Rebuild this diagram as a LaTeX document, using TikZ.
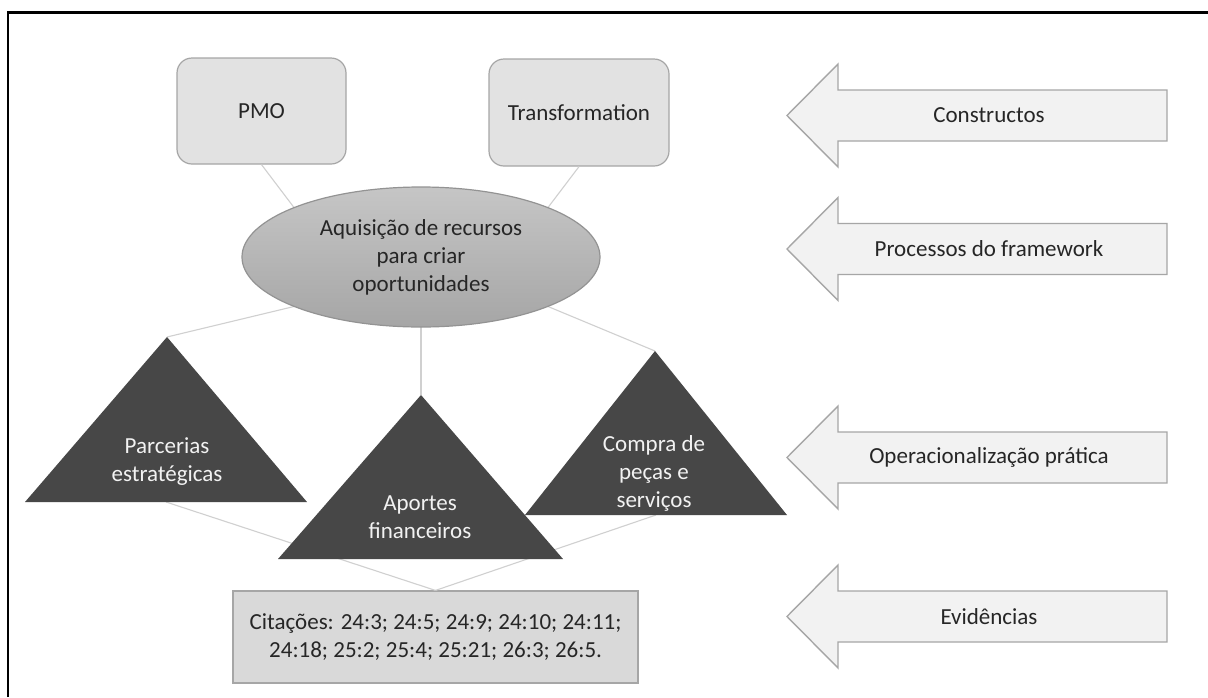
\documentclass[tikz,border=0pt]{standalone}
\usepackage{fontspec}
\setmainfont{Carlito}
\usetikzlibrary{shapes.geometric}
\definecolor{txt}{HTML}{262626}
\definecolor{linkgray}{HTML}{D0D0D0}
\definecolor{edgegray}{HTML}{A6A6A6}
\definecolor{boxfill}{HTML}{E2E2E2}
\definecolor{citefill}{HTML}{D9D9D9}
\definecolor{arrowfill}{HTML}{F2F2F2}
\definecolor{trifill}{HTML}{474747}
\tikzset{
  label font/.style={font=\fontsize{23}{28}\selectfont},
  conbox/.style={draw=edgegray, line width=1.2pt, fill=boxfill, rounded corners=15pt,
    label font, text=txt, align=center},
  citebox/.style={draw=edgegray, line width=1.2pt, fill=citefill,
    label font, text=txt, align=center},
  procell/.style={ellipse, draw=gray!85, line width=1.2pt, top color=gray!45,
    bottom color=gray!70, minimum width=358pt, minimum height=140pt, inner sep=0pt,
    label font, text=txt, align=center},
  link/.style={draw=linkgray, line width=1.1pt},
  tri/.style={fill=trifill},
  tritext/.style={label font, text=white!95!black, align=center},
  pointer/.style={draw=edgegray, line width=1.4pt, fill=arrowfill, line join=miter},
  pointertext/.style={label font, text=txt}
}
\begin{document}
\begin{tikzpicture}[x=1pt,y=-1pt]
\useasboundingbox (0,0) rectangle (1208,697);
\fill[white] (0,0) rectangle (1208,697);

% outer frame (open on the right and bottom)
\draw[line width=2.6pt] (8,697) -- (8,12.5) -- (1208,12.5);

% construct boxes and the central process
\node[conbox, minimum width=169pt, minimum height=106pt] (pmo) at (261.5,111) {PMO};
\node[conbox, minimum width=180pt, minimum height=107pt] (trans) at (579,112.5) {Transformation};

% points on the ellipse border where links attach
\coordinate (eNW) at (294,207.5);
\coordinate (eNE) at (548,207.5);
\coordinate (eSW) at (294,306.5);
\coordinate (eSE) at (548,306.5);
\coordinate (eS)  at (421,327);

% triangle corners
\coordinate (lA) at (167,337);  \coordinate (lB) at (166,502);
\coordinate (mA) at (421,395);  \coordinate (mB) at (420.5,559);
\coordinate (rA) at (655,351);  \coordinate (rB) at (656,515);

% evidence box
\node[citebox, minimum width=405pt, minimum height=92pt] (cite) at (435.5,637)
  {Citações: 24:3; 24:5; 24:9; 24:10; 24:11;\\24:18; 25:2; 25:4; 25:21; 26:3; 26:5.};

% links (drawn first so shapes cover them)
\draw[link] (pmo.south) -- (eNW);
\draw[link] (trans.south) -- (eNE);
\draw[link] (eSW) -- (lA);
\draw[link] (eS) -- (mA);
\draw[link] (eSE) -- (rA);
\draw[link] (lB) -- (cite.north);
\draw[link] (rB) -- (cite.north);

\node[procell] (proc) at (421,257) {Aquisição de recursos\\para criar\\oportunidades};

% practical operationalisation triangles
\fill[tri] (lA) -- (307,502) -- (25,502) -- cycle;
\fill[tri] (rA) -- (787,515) -- (525,515) -- cycle;
\fill[tri] (mA) -- (563,559) -- (278,559) -- cycle;
\node[tritext] (parc) at (167,462) {Parcerias\\estratégicas};
\node[tritext] (aport) at (420,517.5) {Aportes\\financeiros};
\node[tritext] (compra) at (654,473) {Compra de\\peças e\\serviços};

% level arrows on the right
\foreach \cy/\txt/\nm in {115.5/Constructos/lvA, 249/Processos do framework/lvB,
    457.5/Operacionalização prática/lvC, 616.5/Evidências/lvD}{
  \draw[pointer] (787,\cy) -- (838,\cy-51.5) -- (838,\cy-25.5) -- (1167,\cy-25.5)
    -- (1167,\cy+25.5) -- (838,\cy+25.5) -- (838,\cy+51.5) -- cycle;
  \node[pointertext] (\nm) at (989,\cy) {\txt};
}
\end{tikzpicture}
\end{document}
